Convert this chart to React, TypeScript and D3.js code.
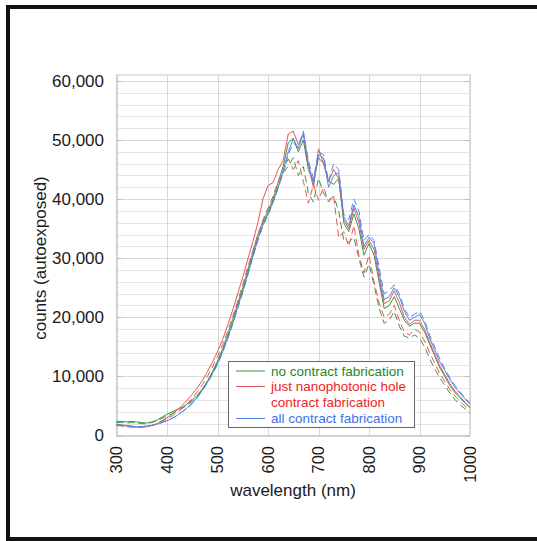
import React, { useEffect, useRef } from 'react';
import * as d3 from 'd3';

// wavelength samples (nm)
const wavelengths = [
  300, 310, 320, 330, 340, 350, 360, 370, 380, 390,
  400, 410, 420, 430, 440, 450, 460, 470, 480, 490,
  500, 510, 520, 530, 540, 550, 560, 570, 580, 590,
  600, 610, 620, 630, 640, 650, 660, 670, 680, 690,
  700, 710, 720, 730, 740, 750, 760, 770, 780, 790,
  800, 810, 820, 830, 840, 850, 860, 870, 880, 890,
  900, 910, 920, 930, 940, 950, 960, 970, 980, 990, 1000,
];

// no contract fabrication
const noSolid = [
  2400, 2400, 2300, 2400, 2300, 2200, 2100, 2300, 2600, 3100,
  3600, 4000, 4400, 4800, 5300, 6000, 6800, 7900, 9200, 10800,
  12600, 14700, 17000, 19600, 22300, 25000, 28000, 31000, 34000, 36200,
  38000, 40000, 42800, 45500, 49500, 50300, 48000, 50000, 45000, 43000,
  47000, 46000, 43000, 42500, 43500, 36000, 34500, 37500, 35000, 30500,
  32500, 30500, 26000, 21500, 22000, 23500, 21500, 19500, 18500, 19000,
  19000, 17500, 15500, 13500, 11500, 10000, 8500, 7300, 6400, 5500, 4800,
];
const noDash = [
  2200, 2200, 2100, 2200, 2100, 2000, 2000, 2200, 2500, 2900,
  3300, 3700, 4100, 4600, 5100, 5800, 6600, 7700, 9000, 10500,
  12300, 14300, 16600, 19000, 21700, 24300, 27200, 30200, 33000, 35500,
  37300, 39500, 42000, 44500, 45500, 47000, 44000, 45500, 41000, 39500,
  43500, 41000, 39800, 40500, 38000, 33000, 32700, 33500, 30000, 26800,
  29000, 25500, 21500, 19000, 19500, 21000, 18500, 16800, 16500, 17000,
  16500, 15000, 13000, 11300, 9800, 8500, 7200, 6100, 5200, 4500, 3800,
];

// just nanophotonic hole contract fabrication
const justSolid = [
  1800, 1700, 1600, 1500, 1400, 1400, 1500, 1700, 2000, 2500,
  3000, 3600, 4300, 5100, 6000, 7000, 8100, 9300, 10800, 12400,
  14200, 16200, 18600, 21200, 24000, 26800, 29800, 32800, 36000, 40000,
  42300, 42800, 45000, 46500, 51000, 51500, 49200, 51000, 45500, 42000,
  48500, 46000, 43000, 45000, 43500, 36500, 35000, 38500, 36000, 31500,
  33000, 31500, 26500, 22300, 22800, 24500, 22500, 20000, 18800, 19500,
  19500, 18000, 15800, 13800, 11800, 10300, 8800, 7500, 6600, 5600, 4700,
];
const justDash = [
  1700, 1600, 1500, 1400, 1400, 1400, 1500, 1700, 2000, 2400,
  2800, 3300, 3900, 4600, 5400, 6300, 7400, 8600, 10000, 11600,
  13400, 15400, 17600, 20100, 22800, 25500, 28500, 31300, 34000, 36500,
  38500, 40500, 43000, 44500, 46800, 45000, 46500, 43000, 39300, 42500,
  39800, 42000, 39500, 40500, 33500, 34500, 32000, 35500, 30500, 27500,
  30500, 26000, 22500, 20000, 20500, 22000, 19500, 17500, 17000, 18000,
  17500, 16000, 14000, 12300, 10500, 9200, 7800, 6700, 5800, 5000, 4300,
];

// all contract fabrication
const allSolid = [
  1900, 1800, 1700, 1600, 1500, 1500, 1600, 1700, 1900, 2200,
  2500, 2900, 3400, 4000, 4700, 5500, 6500, 7700, 9000, 10500,
  12200, 14200, 16500, 19000, 21800, 24500, 27500, 30500, 33500, 35800,
  37600, 39600, 42000, 44800, 48000, 50200, 48500, 51200, 46000, 42500,
  47500, 47000, 42000, 44000, 44500, 37000, 35500, 39000, 37000, 32000,
  33500, 32500, 27500, 23000, 23500, 25000, 23500, 21000, 19500, 20000,
  20500, 19000, 16500, 14500, 12500, 11000, 9500, 8200, 7200, 6200, 5300,
];
const allDash = [
  1800, 1700, 1600, 1500, 1500, 1500, 1600, 1700, 1900, 2200,
  2500, 2900, 3400, 4000, 4600, 5400, 6400, 7600, 8900, 10400,
  12000, 14000, 16300, 18800, 21500, 24200, 27200, 30200, 33200, 35600,
  37400, 39400, 41800, 44500, 47500, 49500, 48800, 51500, 46500, 43500,
  48000, 47500, 43000, 46000, 45000, 37500, 36500, 40000, 38000, 33000,
  34000, 33000, 28500, 24000, 24500, 25500, 24000, 21500, 20000, 20500,
  21000, 19500, 17000, 15000, 13000, 11300, 9800, 8500, 7400, 6400, 5500,
];

const xTicks = [300, 400, 500, 600, 700, 800, 900, 1000];
const yTicks = [0, 10000, 20000, 30000, 40000, 50000, 60000];
const yMinor = [2000, 4000, 6000, 8000, 12000, 14000, 16000, 18000, 22000, 24000, 26000, 28000,
  32000, 34000, 36000, 38000, 42000, 44000, 46000, 48000, 52000, 54000, 56000, 58000];

const GREEN = '#3f953f';
const RED = '#e25858';
const BLUE = '#5585e8';

const seriesList = [
  { name: 'noSolid', values: noSolid, color: GREEN, dash: null },
  { name: 'justSolid', values: justSolid, color: RED, dash: null },
  { name: 'allSolid', values: allSolid, color: BLUE, dash: null },
  { name: 'noDash', values: noDash, color: GREEN, dash: '7,4' },
  { name: 'justDash', values: justDash, color: RED, dash: '7,4' },
  { name: 'allDash', values: allDash, color: BLUE, dash: '7,4' },
];

const legendRows = [
  { label: 'no contract fabrication', color: GREEN, text: '#22882a', line: true },
  { label: 'just nanophotonic hole', color: RED, text: '#ee2424', line: true },
  { label: 'contract fabrication', color: RED, text: '#ee2424', line: false },
  { label: 'all contract fabrication', color: BLUE, text: '#3d72ea', line: true },
];

const FONT = 'Arial, "Liberation Sans", sans-serif';

const App = () => {
  const svgRef = useRef<SVGSVGElement | null>(null);

  useEffect(() => {
    const width = 537;
    const height = 541;
    const svg = d3.select(svgRef.current);
    svg.selectAll('*').remove();
    svg.attr('width', width).attr('height', height);

    const left = 116.5, right = 470, top = 75, bottom = 435.5;

    const x = d3.scaleLinear().domain([300, 1000]).range([left, right]);
    const y = d3.scaleLinear().domain([0, 61000]).range([bottom, top]);

    svg.append('rect').attr('width', width).attr('height', height).attr('fill', '#fff');

    // black frame (cut off on the right)
    svg.append('rect').attr('x', 6).attr('y', 5).attr('width', width - 6).attr('height', 4).attr('fill', '#111');
    svg.append('rect').attr('x', 6).attr('y', 5).attr('width', 4).attr('height', height - 5).attr('fill', '#111');
    svg.append('rect').attr('x', 6).attr('y', 537).attr('width', width - 6).attr('height', 4).attr('fill', '#111');

    const grid = svg.append('g');
    grid.selectAll('line.minor')
      .data(yMinor)
      .join('line')
      .attr('x1', left).attr('x2', right)
      .attr('y1', d => Math.round(y(d)) + 0.5).attr('y2', d => Math.round(y(d)) + 0.5)
      .attr('stroke', '#e4e4e4').attr('stroke-width', 1);
    grid.selectAll('line.major')
      .data(yTicks)
      .join('line')
      .attr('x1', left).attr('x2', right)
      .attr('y1', d => Math.round(y(d)) + 0.5).attr('y2', d => Math.round(y(d)) + 0.5)
      .attr('stroke', '#d8d8d8').attr('stroke-width', 1);
    grid.selectAll('line.vert')
      .data(xTicks)
      .join('line')
      .attr('x1', d => Math.round(x(d)) + 0.5).attr('x2', d => Math.round(x(d)) + 0.5)
      .attr('y1', top).attr('y2', bottom)
      .attr('stroke', '#d8d8d8').attr('stroke-width', 1);

    // small inside tick marks on both sides
    yTicks.forEach(t => {
      const yy = Math.round(y(t)) + 0.5;
      grid.append('line').attr('x1', left).attr('x2', left + 5).attr('y1', yy).attr('y2', yy).attr('stroke', '#bbb');
      grid.append('line').attr('x1', right - 5).attr('x2', right).attr('y1', yy).attr('y2', yy).attr('stroke', '#bbb');
    });

    svg.append('rect')
      .attr('x', left).attr('y', top)
      .attr('width', right - left).attr('height', bottom - top)
      .attr('fill', 'none').attr('stroke', '#cfcfcf').attr('stroke-width', 1.2);

    const line = d3.line<number>()
      .x((_, i) => x(wavelengths[i]))
      .y(d => y(d));

    svg.append('g')
      .selectAll('path')
      .data(seriesList)
      .join('path')
      .attr('d', s => line(s.values))
      .attr('fill', 'none')
      .attr('stroke', s => s.color)
      .attr('stroke-width', 1)
      .attr('stroke-dasharray', s => s.dash)
      .attr('stroke-linejoin', 'round');

    // y tick labels
    svg.append('g')
      .selectAll('text')
      .data(yTicks)
      .join('text')
      .attr('x', 104)
      .attr('y', d => y(d))
      .attr('dy', '0.35em')
      .attr('text-anchor', 'end')
      .style('font-family', FONT)
      .style('font-size', '17px')
      .attr('fill', '#1a1a1a')
      .text(d => d3.format(',')(d));

    // x tick labels, rotated
    svg.append('g')
      .selectAll('text')
      .data(xTicks)
      .join('text')
      .attr('transform', d => `translate(${x(d)},446) rotate(-90)`)
      .attr('dy', '0.35em')
      .attr('text-anchor', 'end')
      .style('font-family', FONT)
      .style('font-size', '16.5px')
      .attr('fill', '#1a1a1a')
      .text(d => d);

    svg.append('text')
      .attr('x', 293)
      .attr('y', 496)
      .attr('text-anchor', 'middle')
      .style('font-family', FONT)
      .style('font-size', '17px')
      .attr('fill', '#1a1a1a')
      .text('wavelength (nm)');

    svg.append('text')
      .attr('transform', 'translate(46,258) rotate(-90)')
      .attr('text-anchor', 'middle')
      .style('font-family', FONT)
      .style('font-size', '17px')
      .attr('fill', '#1a1a1a')
      .text('counts (autoexposed)');

    // legend
    const legend = svg.append('g');
    legend.append('rect')
      .attr('x', 228.5).attr('y', 361.5)
      .attr('width', 186).attr('height', 66)
      .attr('fill', '#fff')
      .attr('stroke', '#666').attr('stroke-width', 1);
    const rowY = [371, 386.5, 402.5, 418.5];
    legendRows.forEach((r, i) => {
      if (r.line) {
        legend.append('line')
          .attr('x1', 236).attr('x2', 265)
          .attr('y1', rowY[i]).attr('y2', rowY[i])
          .attr('stroke', r.color).attr('stroke-width', 1);
      }
      legend.append('text')
        .attr('x', 271)
        .attr('y', rowY[i])
        .attr('dy', '0.35em')
        .style('font-family', FONT)
        .style('font-size', '13.5px')
        .attr('fill', r.text)
        .text(r.label);
    });
  }, []);

  return (
    <div style={{ position: 'absolute', left: 0, top: 0 }}>
      <svg ref={svgRef} style={{ display: 'block' }} />
    </div>
  );
};

export default App;
